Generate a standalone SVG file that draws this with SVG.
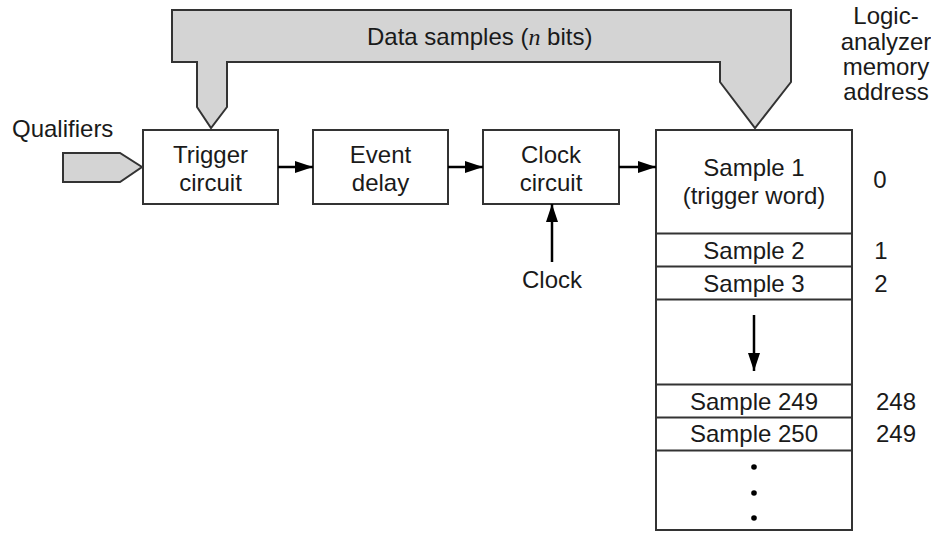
<svg xmlns="http://www.w3.org/2000/svg" width="931" height="533" viewBox="0 0 931 533">
<style>
.box{fill:#fff;stroke:#333;stroke-width:2}
.bus{fill:#d4d4d4;stroke:#333;stroke-width:2;stroke-linejoin:miter}
.t{font-family:"Liberation Sans",Arial,sans-serif;font-size:24px;fill:#1a1a1a}
.c{text-anchor:middle}
.ln{stroke:#333;stroke-width:2;fill:none}
.ar{stroke:#000;stroke-width:2.5;fill:none}
</style>
<defs>
<marker id="ah" viewBox="0 0 18 12" refX="18" refY="6" markerWidth="18" markerHeight="12" markerUnits="userSpaceOnUse" orient="auto">
<path d="M0,0 L18,6 L0,12 Z" fill="#000"/>
</marker>
</defs>
<rect width="931" height="533" fill="#fff"/>
<g id="bus">
<path class="bus" d="M172,10 H791 V82 L755,128 L720,82 V62 H227 V107 L211,128 L197,107 V62 H172 Z"/>
<text class="t" x="367" y="45">Data samples (<tspan font-family="'Liberation Serif',serif" font-style="italic">n</tspan> bits)</text>
</g>
<g id="qualifiers">
<path class="bus" d="M63,153 H120 L142,167 L120,182 H63 Z"/>
<text class="t" x="12" y="137">Qualifiers</text>
</g>
<g id="trigger">
<rect class="box" x="143" y="130" width="135" height="74"/>
<text class="t c" x="210.5" y="163">Trigger</text>
<text class="t c" x="210.5" y="191">circuit</text>
</g>
<g id="event">
<rect class="box" x="313" y="130" width="135" height="74"/>
<text class="t c" x="380.5" y="163">Event</text>
<text class="t c" x="380.5" y="191">delay</text>
</g>
<g id="clockcircuit">
<rect class="box" x="483" y="130" width="136" height="74"/>
<text class="t c" x="551" y="163">Clock</text>
<text class="t c" x="551" y="191">circuit</text>
</g>
<g id="clock">
<text class="t c" x="552" y="288">Clock</text>
</g>
<g id="memory">
<rect class="box" x="656" y="130" width="196" height="400"/>
<line class="ln" x1="656" y1="233.5" x2="852" y2="233.5"/>
<line class="ln" x1="656" y1="266.5" x2="852" y2="266.5"/>
<line class="ln" x1="656" y1="299.5" x2="852" y2="299.5"/>
<line class="ln" x1="656" y1="384.5" x2="852" y2="384.5"/>
<line class="ln" x1="656" y1="417.5" x2="852" y2="417.5"/>
<line class="ln" x1="656" y1="450.5" x2="852" y2="450.5"/>
<text class="t c" x="754" y="176">Sample 1</text>
<text class="t c" x="754" y="204">(trigger word)</text>
<text class="t c" x="754" y="259">Sample 2</text>
<text class="t c" x="754" y="292">Sample 3</text>
<text class="t c" x="754" y="410">Sample 249</text>
<text class="t c" x="754" y="442">Sample 250</text>
<circle cx="754" cy="467" r="2.8" fill="#000"/>
<circle cx="754" cy="493" r="2.8" fill="#000"/>
<circle cx="754" cy="518" r="2.8" fill="#000"/>
</g>
<g id="addresses">
<text class="t c" x="886" y="24">Logic-</text>
<text class="t c" x="886" y="49.5">analyzer</text>
<text class="t c" x="886" y="75">memory</text>
<text class="t c" x="886" y="100">address</text>
<text class="t c" x="880" y="188">0</text>
<text class="t c" x="881" y="259">1</text>
<text class="t c" x="881" y="292">2</text>
<text class="t" x="876" y="410">248</text>
<text class="t" x="876" y="442">249</text>
</g>
<g id="connectors">
<line class="ar" x1="278" y1="167" x2="313" y2="167" marker-end="url(#ah)"/>
<line class="ar" x1="448" y1="167" x2="483" y2="167" marker-end="url(#ah)"/>
<line class="ar" x1="619" y1="167" x2="656" y2="167" marker-end="url(#ah)"/>
<line class="ar" x1="552" y1="262" x2="552" y2="204" marker-end="url(#ah)"/>
<line class="ar" x1="754" y1="315" x2="754" y2="371" marker-end="url(#ah)"/>
</g>
</svg>
